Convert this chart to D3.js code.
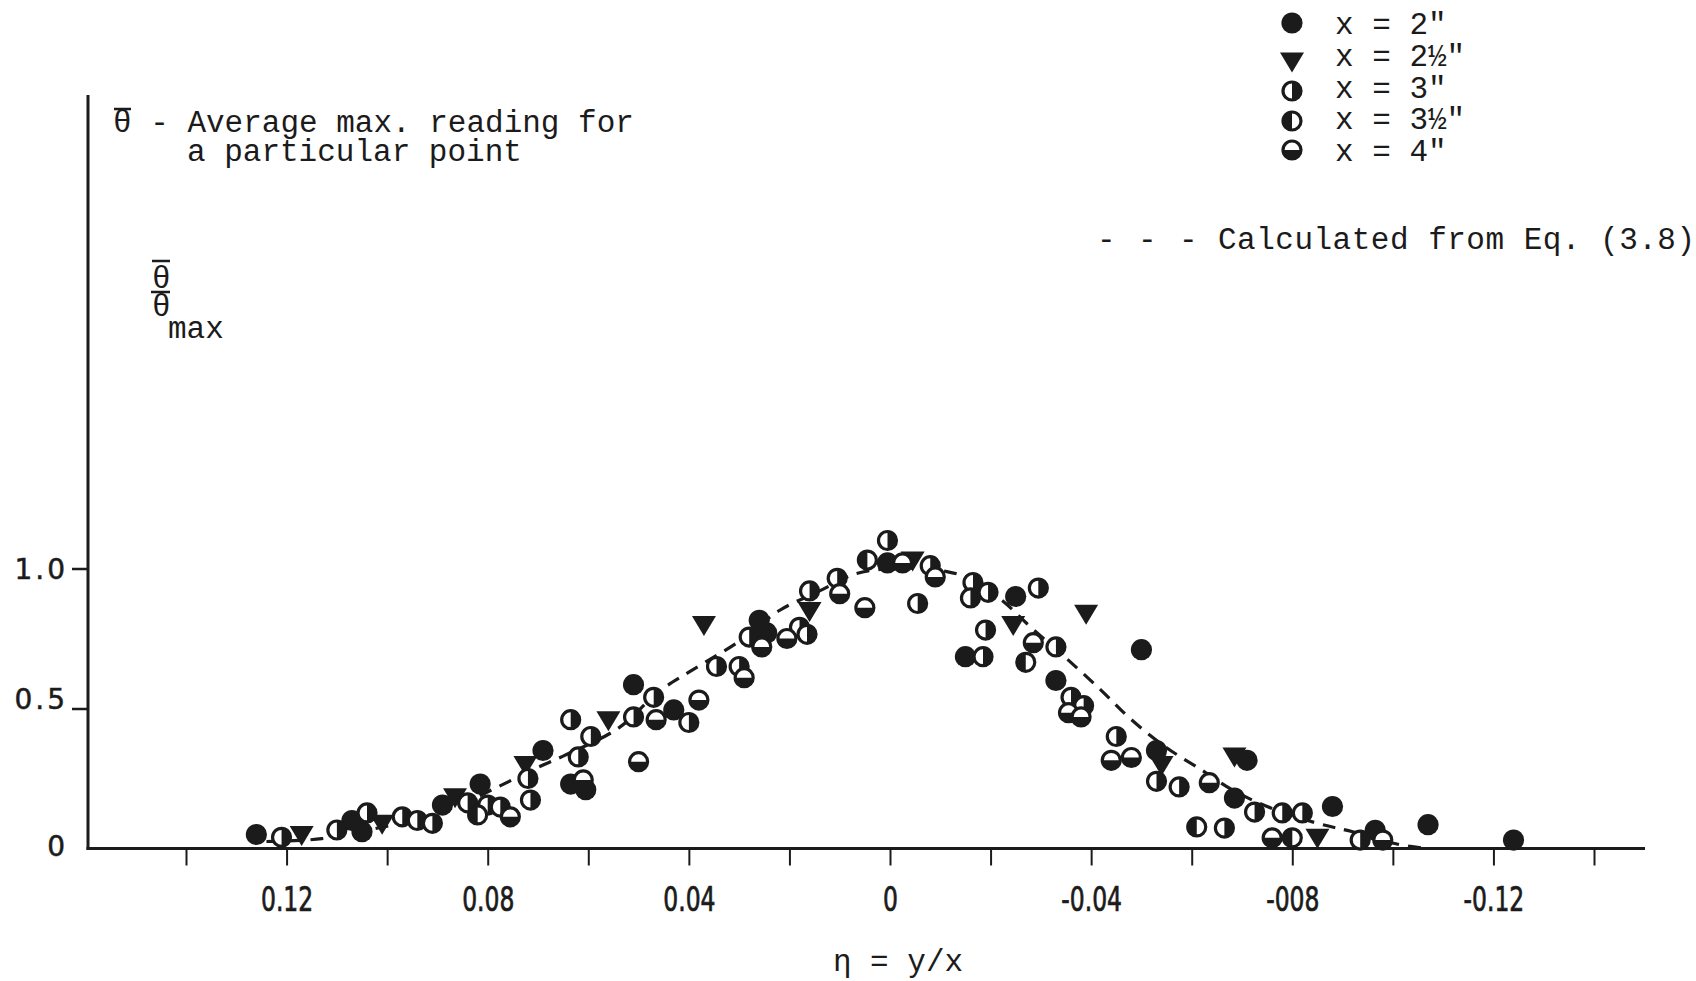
<!DOCTYPE html>
<html>
<head>
<meta charset="utf-8">
<script src="https://cdn.jsdelivr.net/npm/d3@7"></script>
<style>
  html, body { margin: 0; padding: 0; background: #fff; }
  svg { display: block; }
  .mono { font-family: "Liberation Mono", "Courier New", monospace; font-size: 31px; fill: #1b1b1b; }
  .xlab { font-family: "DejaVu Sans Condensed", "Liberation Sans Narrow", sans-serif; font-size: 33px; fill: #1b1b1b; stroke: #1b1b1b; stroke-width: 0.7px; }
  .ylab { font-family: "DejaVu Sans", sans-serif; font-size: 28px; fill: #1b1b1b; letter-spacing: 3px; stroke: #1b1b1b; stroke-width: 0.5px; }
</style>
</head>
<body>
<script>
var width = 1696, height = 981;
var ink = "#1b1b1b";

// legend / series
var seriesNames = ['x = 2"', 'x = 2½"', 'x = 3"', 'x = 3½"', 'x = 4"'];
var seriesShapes = ["full", "tri", "right", "left", "bottom"];

// [eta, theta/theta_max]
var pts2 = [[0.126,0.05],[0.107,0.10],[0.105,0.06],[0.089,0.155],[0.0815,0.23],[0.069,0.35],
  [0.0635,0.23],[0.0605,0.21],[0.051,0.585],[0.043,0.495],[0.026,0.815],[0.0245,0.77],
  [0.0005,1.02],[-0.025,0.90],[-0.015,0.685],[-0.050,0.71],[-0.033,0.60],[-0.053,0.35],
  [-0.071,0.315],[-0.0685,0.18],[-0.088,0.15],[-0.0965,0.065],[-0.107,0.085],[-0.124,0.03]];
var pts25 = [[0.117,0.05],[0.101,0.09],[0.0865,0.185],[0.0725,0.30],[0.056,0.46],[0.037,0.80],
  [0.016,0.85],[-0.0045,1.03],[-0.0245,0.80],[-0.039,0.84],[-0.054,0.30],[-0.0685,0.33],[-0.085,0.04]];
var pts3 = [[0.121,0.04],[0.110,0.066],[0.104,0.127],[0.097,0.113],[0.094,0.10],[0.091,0.09],
  [0.084,0.163],[0.080,0.155],[0.0775,0.148],[0.072,0.25],[0.0715,0.173],[0.062,0.327],
  [0.0635,0.46],[0.0595,0.40],[0.051,0.47],[0.047,0.54],[0.040,0.45],[0.0345,0.65],
  [0.030,0.65],[0.028,0.755],[0.018,0.79],[0.0165,0.765],[0.016,0.92],[0.0105,0.965],
  [0.0005,1.10],[-0.0055,0.875],[-0.008,1.01],[-0.0165,0.95],[-0.016,0.895],[-0.0195,0.915],
  [-0.0295,0.93],[-0.019,0.78],[-0.0185,0.685],[-0.033,0.72],[-0.036,0.54],[-0.0385,0.51],
  [-0.045,0.40],[-0.053,0.24],[-0.0575,0.22],[-0.0725,0.13],[-0.078,0.127],[-0.082,0.127],
  [-0.0665,0.073],[-0.0935,0.03]];
var pts35 = [[0.082,0.12],[0.0045,1.03],[-0.027,0.665],[-0.061,0.077],[-0.080,0.038]];
var pts4 = [[0.0755,0.113],[0.061,0.245],[0.050,0.31],[0.0465,0.46],[0.038,0.53],[0.029,0.61],
  [0.0255,0.72],[0.0205,0.75],[0.010,0.91],[0.005,0.86],[-0.0025,1.02],[-0.009,0.97],
  [-0.0285,0.735],[-0.0355,0.485],[-0.038,0.47],[-0.044,0.315],[-0.048,0.325],[-0.0635,0.235],
  [-0.076,0.038],[-0.098,0.03]];
var seriesData = [pts2, pts25, pts3, pts35, pts4];

// dashed curve, Eq. (3.8), read point by point
var curveEta = [0.124, 0.113, 0.100, 0.093, 0.085, 0.078, 0.070, 0.065, 0.054, 0.046, 0.040,
  0.030, 0.022, 0.014, 0.007, 0.000, -0.006, -0.011, -0.015, -0.022, -0.028, -0.035, -0.042,
  -0.048, -0.055, -0.062, -0.068, -0.075, -0.085, -0.092, -0.101, -0.107];
var curveVal = [0.025, 0.035, 0.08, 0.105, 0.16, 0.22, 0.29, 0.33, 0.43, 0.56, 0.63,
  0.74, 0.85, 0.92, 0.98, 1.00, 1.00, 0.99, 0.97, 0.89, 0.79, 0.68, 0.565,
  0.46, 0.36, 0.28, 0.21, 0.15, 0.09, 0.06, 0.015, 0.0];

// ticks
var xTicks = [0.14, 0.12, 0.10, 0.08, 0.06, 0.04, 0.02, 0, -0.02, -0.04, -0.06, -0.08, -0.10, -0.12, -0.14];
var xLabelValues = [0.12, 0.08, 0.04, 0, -0.04, -0.08, -0.12];
var xLabelText = ["0.12", "0.08", "0.04", "0", "-0.04", "-008", "-0.12"];
var yTicks = [0.5, 1.0];
var yLabelValues = [0, 0.5, 1.0];
var yLabelText = ["0", "0.5", "1.0"];

var svg = d3.select("body").append("svg")
    .attr("width", width)
    .attr("height", height);
svg.append("rect").attr("width", width).attr("height", height).attr("fill", "#fff");

var x = d3.scaleLinear().domain([0.14, -0.14]).range([186, 1594]);
var y = d3.scaleLinear().domain([0, 1]).range([848.5, 568.5]);
var axisX = 88;
var axisRight = 1645;

// axes lines
svg.append("line")
    .attr("x1", axisX).attr("x2", axisX)
    .attr("y1", 95).attr("y2", y(0) + 1.5)
    .attr("stroke", ink).attr("stroke-width", 3);
svg.append("line")
    .attr("x1", axisX - 1.5).attr("x2", axisRight)
    .attr("y1", y(0)).attr("y2", y(0))
    .attr("stroke", ink).attr("stroke-width", 3);

// x ticks via d3 axis
var xAxisG = svg.append("g")
    .attr("transform", "translate(0," + y(0) + ")")
    .call(d3.axisBottom(x).tickValues(xTicks).tickSize(17).tickFormat(function (d) {
        var i = xLabelValues.findIndex(function (v) { return Math.abs(v - d) < 1e-9; });
        return i >= 0 ? xLabelText[i] : "";
    }));
xAxisG.select(".domain").remove();
xAxisG.selectAll(".tick line").attr("stroke", ink).attr("stroke-width", 2);
xAxisG.selectAll(".tick text")
    .attr("class", "xlab")
    .attr("y", 0).attr("dy", 0)
    .attr("transform", "translate(0,62) scale(0.79,1)")
    .attr("fill", ink);

// y ticks
var yAxisG = svg.append("g")
    .attr("transform", "translate(" + axisX + ",0)")
    .call(d3.axisLeft(y).tickValues(yTicks).tickSize(16).tickFormat(""));
yAxisG.select(".domain").remove();
yAxisG.selectAll(".tick line").attr("stroke", ink).attr("stroke-width", 2.5);

svg.append("g").selectAll("text")
    .data(yLabelValues)
    .join("text")
    .attr("class", "ylab")
    .attr("text-anchor", "end")
    .attr("x", 68)
    .attr("y", function (d) { return y(d) + (d === 0.5 ? 0 : d === 0 ? 7 : 10); })
    .text(function (d, i) { return yLabelText[i]; });

// dashed curve
var curvePts = curveEta.map(function (e, i) { return [e, curveVal[i]]; });
svg.append("path")
    .datum(curvePts)
    .attr("fill", "none")
    .attr("stroke", ink)
    .attr("stroke-width", 3.2)
    .attr("stroke-dasharray", "13 9")
    .attr("d", d3.line()
        .x(function (d) { return x(d[0]); })
        .y(function (d) { return y(d[1]); })
        .curve(d3.curveCatmullRom));

// markers
function drawShape(g, shape) {
    var r = 9;
    if (shape === "full") {
        g.append("circle").attr("r", 10.6).attr("fill", ink);
    } else if (shape === "tri") {
        g.append("path").attr("d", "M-12,-8.5L12,-8.5L0,11.5Z").attr("fill", ink);
    } else {
        g.append("circle").attr("r", r).attr("fill", "#fff")
            .attr("stroke", ink).attr("stroke-width", 3.2);
        var d;
        if (shape === "right") d = "M0," + (-r) + "A" + r + "," + r + " 0 0 1 0," + r + "Z";
        else if (shape === "left") d = "M0," + (-r) + "A" + r + "," + r + " 0 0 0 0," + r + "Z";
        else d = "M" + (-r) + ",0A" + r + "," + r + " 0 0 0 " + r + ",0Z";
        g.append("path").attr("d", d).attr("fill", ink);
    }
}

seriesData.forEach(function (pts, si) {
    svg.append("g").selectAll("g")
        .data(pts)
        .join("g")
        .attr("transform", function (d) { return "translate(" + x(d[0]) + "," + y(d[1]) + ")"; })
        .each(function () { drawShape(d3.select(this), seriesShapes[si]); });
});

// legend
var legendSymY = [23, 61, 91, 121, 150];
var legend = svg.append("g");
seriesNames.forEach(function (name, i) {
    var g = legend.append("g").attr("transform", "translate(1292," + legendSymY[i] + ")");
    drawShape(g, seriesShapes[i]);
    legend.append("text").attr("class", "mono")
        .attr("x", 1335).attr("y", 34 + i * 31.8)
        .text(name);
});

svg.append("text").attr("class", "mono")
    .attr("x", 1097).attr("y", 249)
    .style("letter-spacing", "1.9px")
    .text("- - -");
svg.append("text").attr("class", "mono")
    .attr("x", 1218).attr("y", 249)
    .style("letter-spacing", "0.5px")
    .text("Calculated from Eq. (3.8)");

// note at top left
svg.append("text").attr("class", "mono")
    .attr("x", 113).attr("y", 132)
    .text("\u03b8 - Average max. reading for");
svg.append("line").attr("x1", 114).attr("x2", 131).attr("y1", 109).attr("y2", 109)
    .attr("stroke", ink).attr("stroke-width", 2.5);
svg.append("text").attr("class", "mono")
    .attr("x", 187).attr("y", 161)
    .text("a particular point");

// y label: theta bar / theta bar max
svg.append("text").attr("class", "mono").attr("x", 152).attr("y", 288).text("\u03b8");
svg.append("line").attr("x1", 152).attr("x2", 170).attr("y1", 261).attr("y2", 261)
    .attr("stroke", ink).attr("stroke-width", 2.5);
svg.append("line").attr("x1", 151).attr("x2", 170).attr("y1", 292).attr("y2", 292)
    .attr("stroke", ink).attr("stroke-width", 2.5);
svg.append("text").attr("class", "mono").attr("x", 152).attr("y", 316).text("\u03b8");
svg.append("text").attr("class", "mono").attr("x", 168).attr("y", 338).text("max");

// x axis title
svg.append("text").attr("class", "mono")
    .attr("x", 898).attr("y", 971)
    .attr("text-anchor", "middle")
    .text("\u03b7 = y/x");
</script>
</body>
</html>
